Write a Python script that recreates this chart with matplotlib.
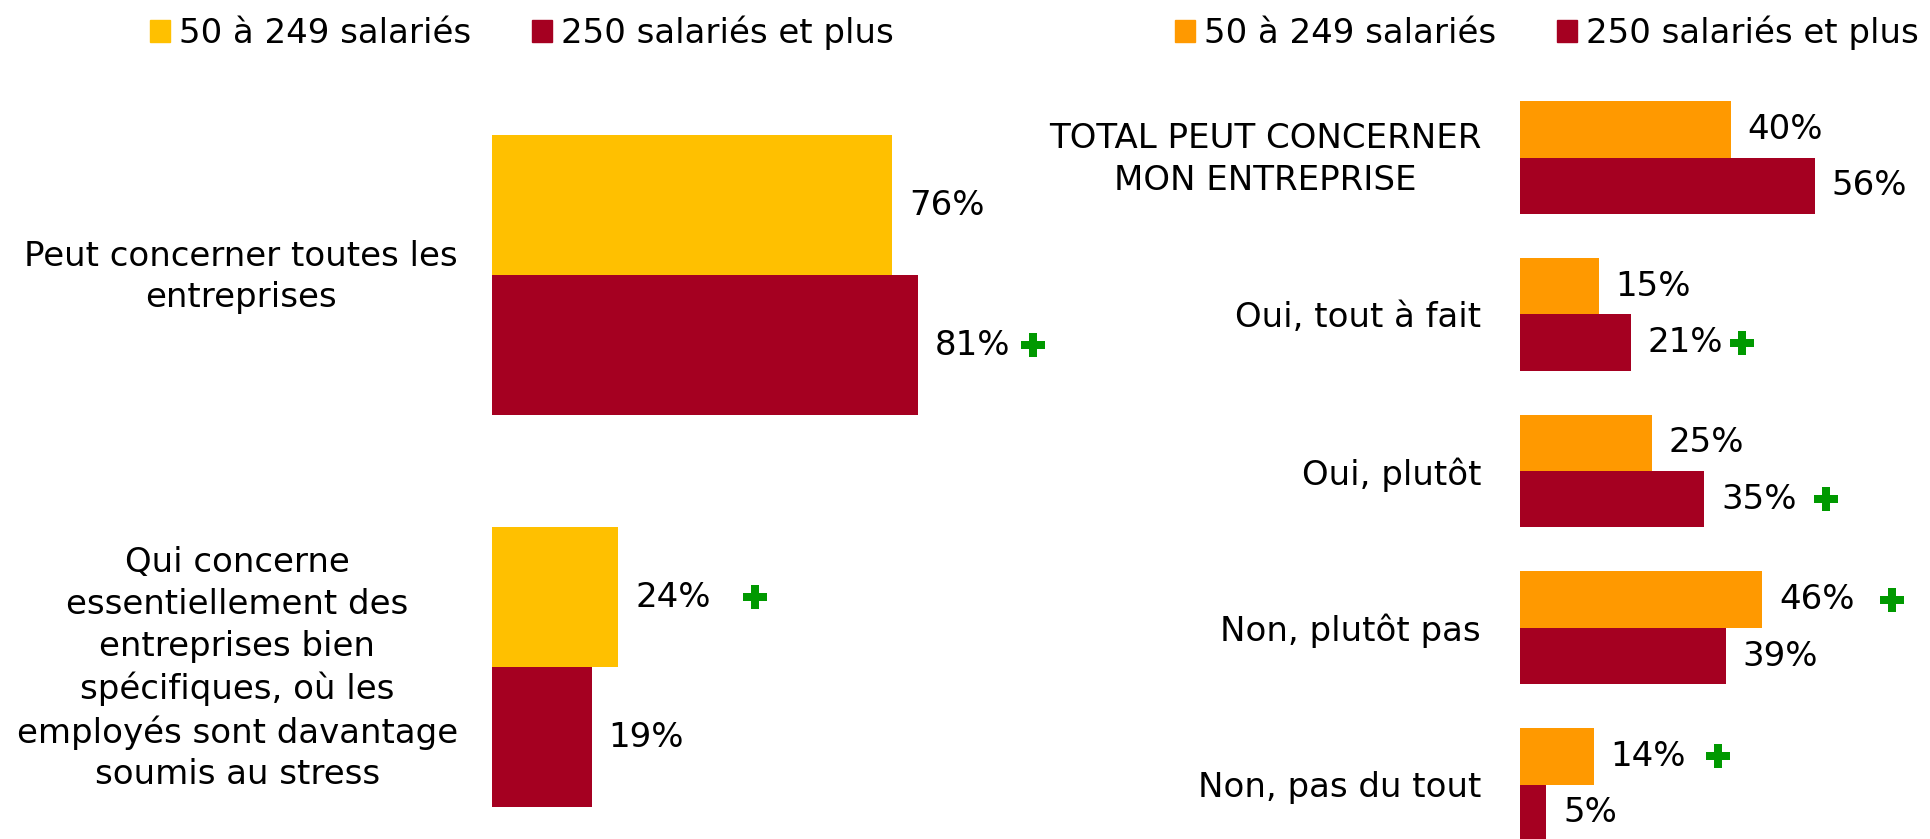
import matplotlib
matplotlib.use("Agg")
import matplotlib.pyplot as plt
import matplotlib.transforms as mtransforms
from matplotlib.patches import Patch

plt.rcParams["font.family"] = ["DejaVu Sans"]

# ---- data ----
left_categories = ["Peut concerner toutes les\nentreprises",
                   "Qui concerne\nessentiellement des\nentreprises bien\nspécifiques, où les\nemployés sont davantage\nsoumis au stress"]
left_small = [76, 24]      # 50 à 249 salariés
left_large = [81, 19]      # 250 salariés et plus

right_categories = ["TOTAL PEUT CONCERNER\nMON ENTREPRISE", "Oui, tout à fait",
                    "Oui, plutôt", "Non, plutôt pas", "Non, pas du tout"]
right_small = [40, 15, 25, 46, 14]
right_large = [56, 21, 35, 39, 5]

legend_labels = ["50 à 249 salariés", "250 salariés et plus"]

# significance marks: (which series, index, x position of the "+")
left_plus = [("large", 0, 102.8), ("small", 1, 49.9)]
right_plus = [("large", 1, 42.2), ("large", 2, 58.1), ("small", 3, 70.5), ("small", 4, 37.6)]

YELLOW = "#FFC000"
ORANGE = "#FF9900"
RED = "#A50021"
GREEN = "#009900"
FS = 24.5

W, H = 1931, 839
fig = plt.figure(figsize=(W / 100, H / 100), dpi=100)


def make_axes(x0, x1, center0, pitch, scale):
    # axes spanning pixel columns x0..x1 and the full height
    ax = fig.add_axes([x0 / W, 0, (x1 - x0) / W, 1])
    ax.set_xlim(0, (x1 - x0) / scale)
    ax.set_ylim((H - center0) / pitch, -center0 / pitch)
    for s in ax.spines.values():
        s.set_visible(False)
    ax.set_xticks([])
    return ax


def draw(ax, cats, small, large, c_small, h, pad, plus):
    ys = list(range(len(cats)))
    y_small = [y - h / 2 for y in ys]
    y_large = [y + h / 2 for y in ys]
    ax.barh(y_small, small, height=h, color=c_small)
    ax.barh(y_large, large, height=h, color=RED)
    for y, v in zip(y_small, small):
        ax.annotate(f"{v}%", (v, y), xytext=(12, 0), textcoords="offset points",
                    va="center", ha="left", fontsize=FS)
    for y, v in zip(y_large, large):
        ax.annotate(f"{v}%", (v, y), xytext=(12, 0), textcoords="offset points",
                    va="center", ha="left", fontsize=FS)
    ax.set_yticks(ys)
    ax.set_yticklabels(cats, fontsize=FS, linespacing=1.33)
    ax.tick_params(axis="y", length=0, pad=pad)
    # multi-line labels sit a little high in the original
    nudge = mtransforms.ScaledTranslation(0, 4.3 / 72, fig.dpi_scale_trans)
    for lbl in ax.get_yticklabels():
        lbl.set_multialignment("center")
        if "\n" in lbl.get_text():
            lbl.set_transform(lbl.get_transform() + nudge)
    for series, i, xp in plus:
        yp = y_small[i] if series == "small" else y_large[i]
        ax.plot([xp], [yp], marker="P", markersize=17, color=GREEN,
                markeredgewidth=0, clip_on=False)


ax1 = make_axes(492, 1140, 275, 392, 5.265)
draw(ax1, left_categories, left_small, left_large, YELLOW, 140 / 392, 24.5, left_plus)

ax2 = make_axes(1520, W, 157.5, 156.75, 5.27)
draw(ax2, right_categories, right_small, right_large, ORANGE, 56.5 / 156.75, 28, right_plus)

# legends
for x_px, c in [(150, YELLOW), (1175, ORANGE)]:
    handles = [Patch(color=c), Patch(color=RED)]
    fig.legend(handles, legend_labels, loc="center left",
               bbox_to_anchor=(x_px / W, 1 - 33 / H), ncol=2, frameon=False,
               fontsize=FS, handlelength=0.58, handleheight=0.61,
               handletextpad=0.26, columnspacing=1.81, borderpad=0,
               borderaxespad=0)

fig.savefig("out.png", dpi=100)
